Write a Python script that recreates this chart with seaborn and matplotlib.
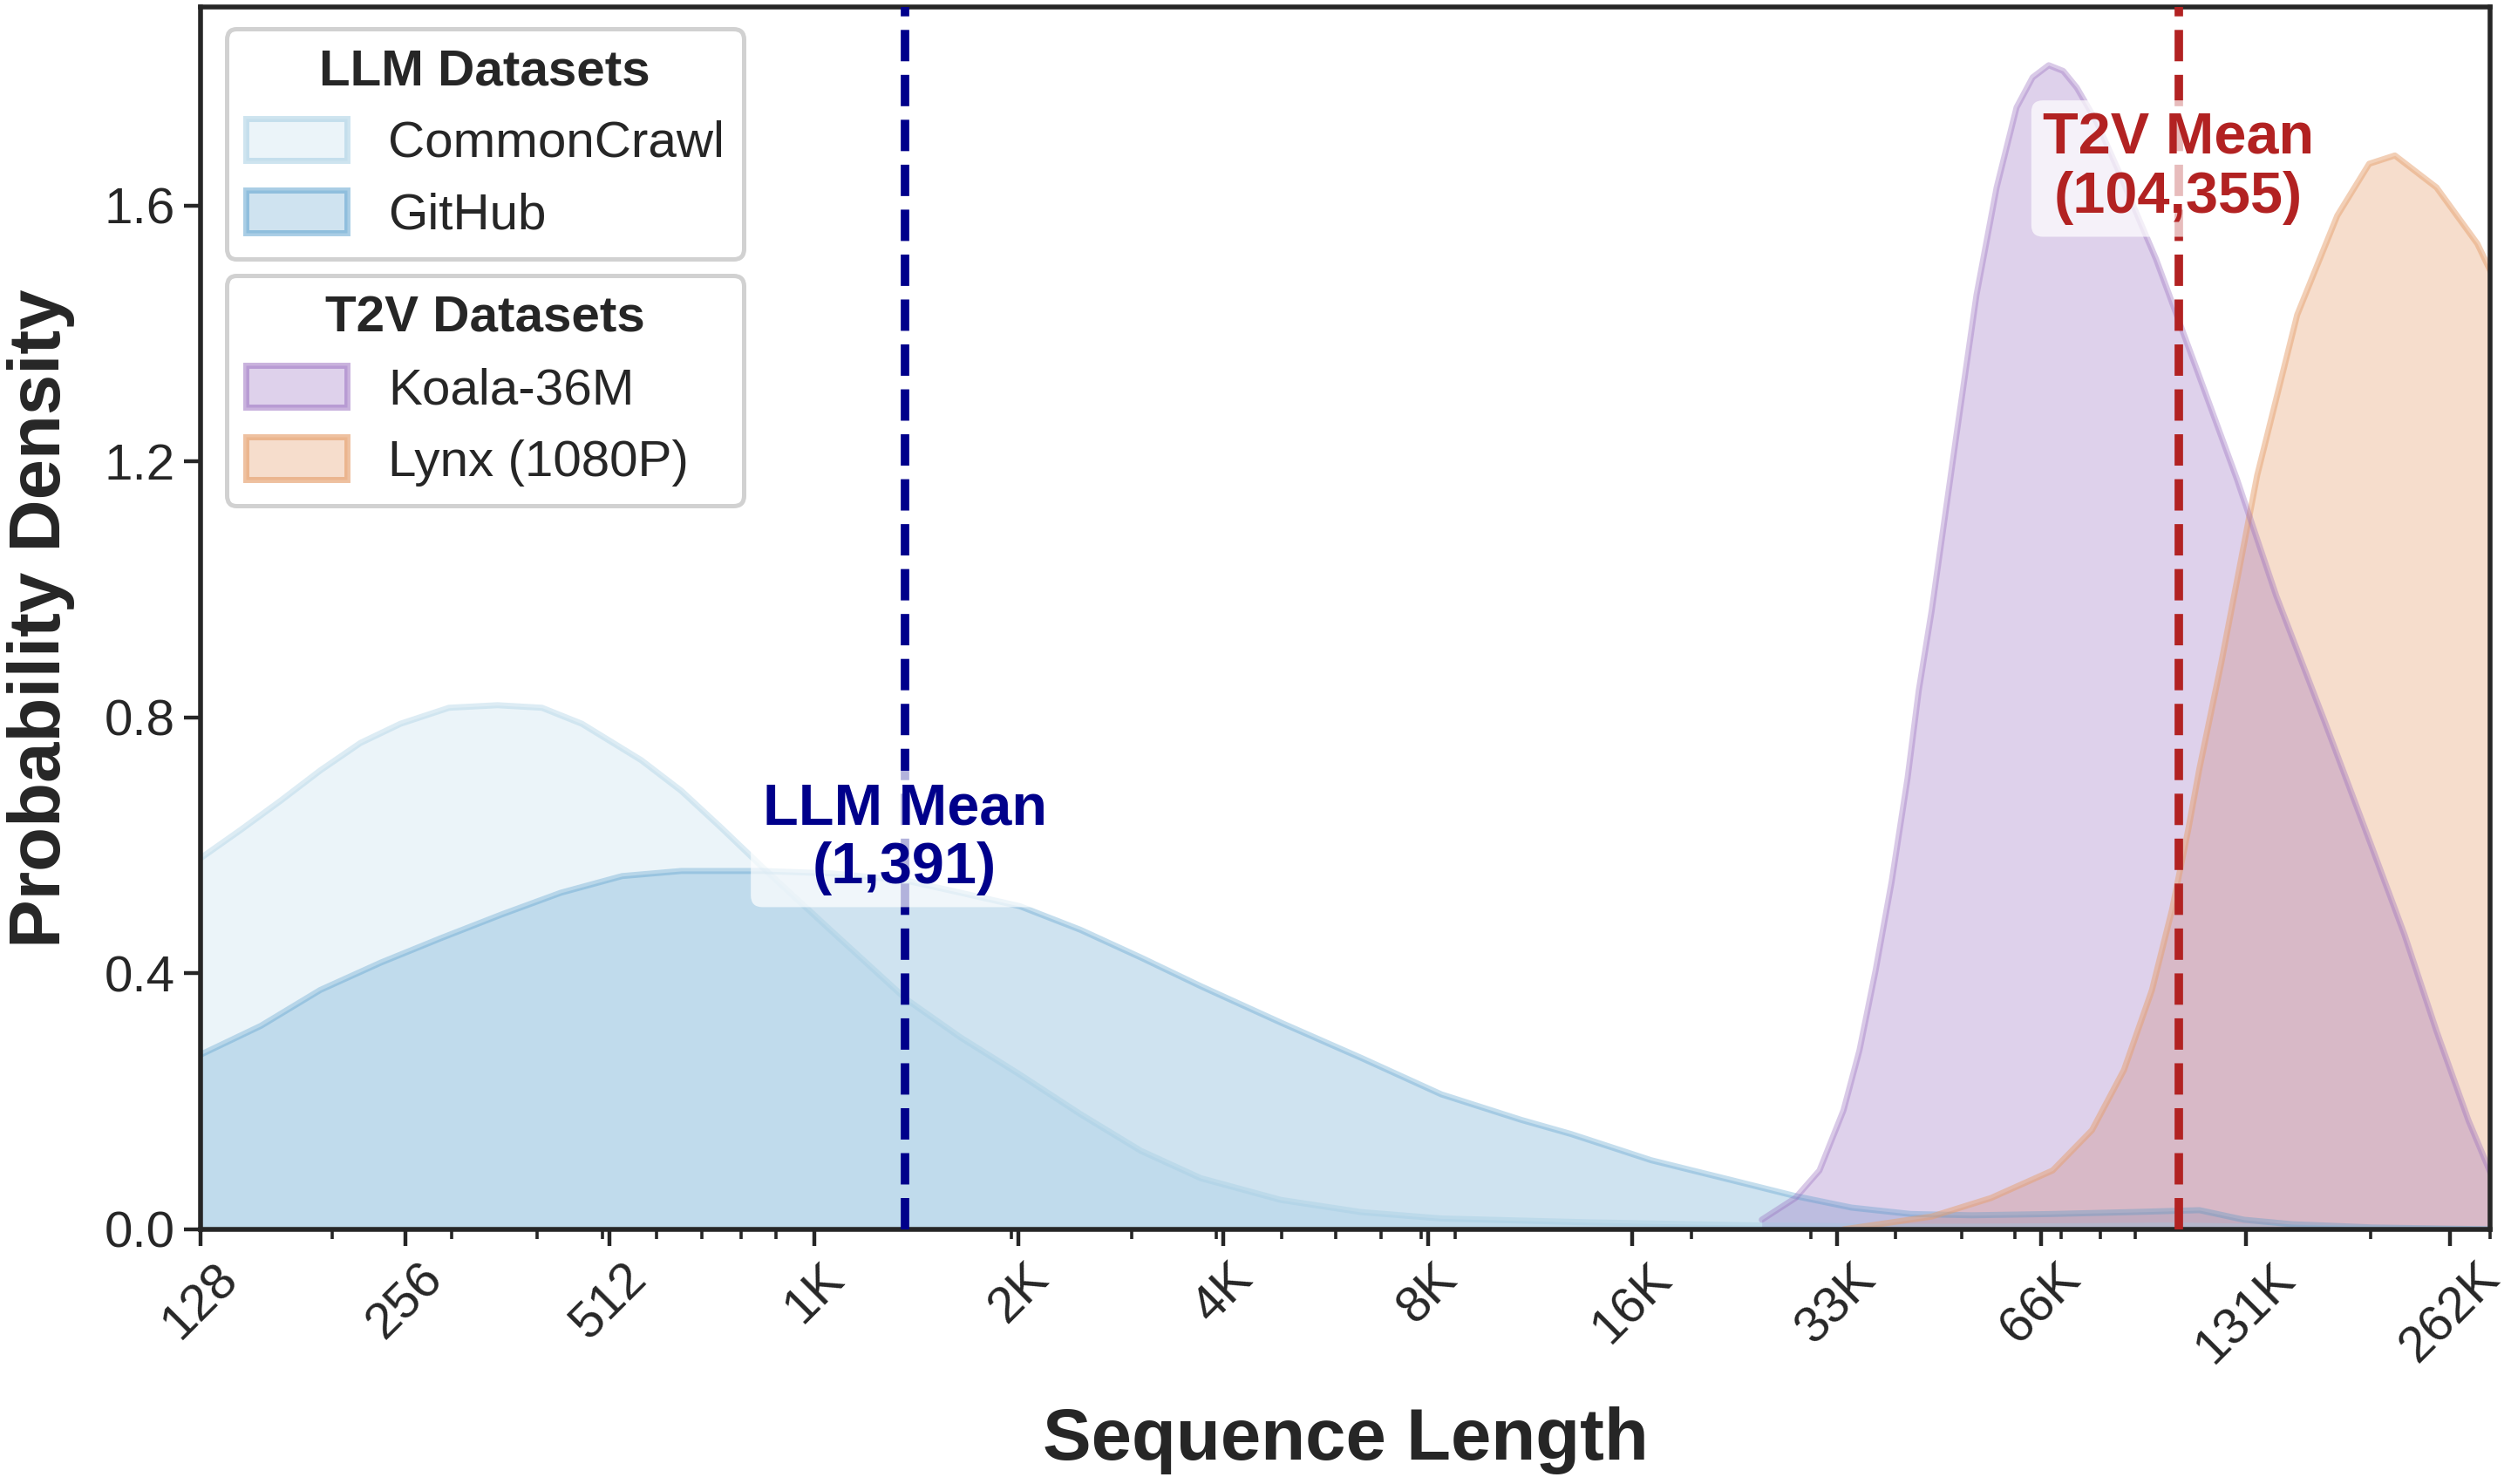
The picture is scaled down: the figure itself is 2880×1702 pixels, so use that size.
import numpy as np
import pandas as pd
import matplotlib
matplotlib.use("Agg")
import matplotlib.pyplot as plt
import seaborn as sns
from matplotlib.patches import Patch
from matplotlib.colors import to_rgba
from matplotlib.ticker import NullFormatter

# density curves (x = sequence length, y = density)
cc_len = [128, 147, 168, 192, 220, 252, 297, 350, 407, 466, 570, 653, 748, 857, 1076,
          1397, 1681, 2055, 2525, 3095, 3795, 4980, 6535, 8576, 14130, 25550, 43990,
          75710, 105000, 171000, 302600]
cc_den = [0.58, 0.625, 0.67, 0.717, 0.76, 0.79, 0.815, 0.819, 0.815, 0.79, 0.733, 0.685, 0.627, 0.567, 0.47,
          0.36, 0.30, 0.242, 0.18, 0.123, 0.08, 0.046, 0.027, 0.017, 0.011, 0.006, 0.004,
          0.005, 0.006, 0.002, 0.0]

gh_len = [128, 157, 192, 236, 289, 355, 434, 534, 653, 857, 1094, 1397, 1681, 2055, 2525,
          3095, 3795, 4980, 6535, 8576, 11250, 13310, 17470, 22920, 28480, 34440, 42110,
          51780, 68100, 89150, 112000, 130300, 153400, 201300, 302600]
gh_den = [0.273, 0.318, 0.374, 0.417, 0.455, 0.492, 0.526, 0.552, 0.56, 0.56, 0.556, 0.545, 0.526, 0.505, 0.468,
          0.425, 0.38, 0.323, 0.268, 0.211, 0.171, 0.149, 0.108, 0.077, 0.052, 0.034, 0.024,
          0.022, 0.024, 0.027, 0.03, 0.015, 0.008, 0.003, 0.0]

koala_len = [25410, 28480, 30900, 33520, 35390, 37380, 39460, 41650, 43260, 45200, 49150,
             52610, 56330, 60260, 63640, 67200, 70580, 73900, 79080, 84630, 96680, 110700,
             127200, 145300, 171000, 201300, 224500, 250100, 278800, 302600, 328000]
koala_den = [0.015, 0.049, 0.092, 0.186, 0.28, 0.405, 0.543, 0.705, 0.842, 0.967, 1.241,
             1.46, 1.628, 1.753, 1.80, 1.819, 1.81, 1.784, 1.73, 1.66, 1.516, 1.347,
             1.172, 0.99, 0.795, 0.595, 0.46, 0.31, 0.17, 0.08, 0.03]

lynx_len = [33520, 45200, 55270, 68100, 77820, 86720, 95360, 102100, 107800, 112000, 120600,
            136200, 156000, 178700, 199100, 217200, 250100, 287300, 302600]
lynx_den = [0.0, 0.02, 0.049, 0.092, 0.155, 0.249, 0.374, 0.50, 0.624, 0.72, 0.885,
            1.178, 1.429, 1.584, 1.665, 1.678, 1.628, 1.54, 1.49]

llm_mean = 1391
t2v_mean = 104355

tick_vals = [2 ** k for k in range(7, 19)]
tick_labels = ["128", "256", "512", "1K", "2K", "4K", "8K", "16K", "33K", "66K", "131K", "262K"]
y_ticks = [0.0, 0.4, 0.8, 1.2, 1.6]

sns.set_theme(style="ticks")
plt.rcParams["font.family"] = ["Liberation Sans", "DejaVu Sans"]

fig, ax = plt.subplots(figsize=(14.4, 8.51), dpi=200)
fig.subplots_adjust(left=0.0799, right=0.9917, bottom=0.1716, top=0.9953)
ax.set_xscale("log")

# name, x, y, color, fill alpha, edge alpha
series = [
    ("CommonCrawl", cc_len, cc_den, "#9ecae1", 0.2, 0.35),
    ("GitHub", gh_len, gh_den, "#4292c6", 0.25, 0.3),
    ("Lynx (1080P)", lynx_len, lynx_den, "#e6a06e", 0.35, 0.5),
    ("Koala-36M", koala_len, koala_den, "#9467bd", 0.3, 0.35),
]
for name, xs, ys, col, fa, la in series:
    ax.fill_between(xs, ys, 0, color=col, alpha=fa, lw=0)
    sns.lineplot(x=xs, y=ys, ax=ax, color=col, alpha=la, lw=2.5)

ax.axvline(llm_mean, color="darkblue", ls="--", lw=3.5, zorder=4)
ax.axvline(t2v_mean, color="firebrick", ls="--", lw=3.5, zorder=4)

box = dict(boxstyle="round,pad=0.2", fc="white", ec="none", alpha=0.7)
ax.text(llm_mean, 0.61, f"LLM Mean\n({llm_mean:,})", ha="center", va="center",
        fontsize=24, fontweight="bold", color="darkblue", bbox=box, zorder=5, linespacing=1.12)
ax.text(t2v_mean, 1.6575, f"T2V Mean\n({t2v_mean:,})", ha="center", va="center",
        fontsize=24, fontweight="bold", color="firebrick", bbox=box, zorder=5, linespacing=1.12)

ax.set_xlim(128, 3.0e5)
ax.set_ylim(0, 1.91)
ax.set_xticks(tick_vals)
ax.set_xticklabels(tick_labels, rotation=45, fontsize=21)
ax.xaxis.set_minor_formatter(NullFormatter())
ax.set_yticks(y_ticks)
ax.set_yticklabels([f"{v:.1f}" for v in y_ticks], fontsize=21)
ax.tick_params(which="major", length=7, width=1.6, color="#262626")
ax.tick_params(which="minor", length=4, width=1.3, color="#262626")
for sp in ax.spines.values():
    sp.set_linewidth(2)
    sp.set_color("#262626")

ax.set_xlabel("Sequence Length", fontsize=30, fontweight="bold", labelpad=14)
ax.set_ylabel("Probability Density", fontsize=30, fontweight="bold", labelpad=12)


def make_handles(items):
    return [Patch(facecolor=to_rgba(c, fa), edgecolor=to_rgba(c, la + 0.15), lw=2.5, label=n)
            for n, _, _, c, fa, la in items]


leg_kw = dict(loc="upper left", mode="expand", borderaxespad=0, fontsize=21,
              title_fontproperties={"weight": "bold", "size": 21}, frameon=True, fancybox=True,
              framealpha=0.9, edgecolor="#cccccc", handlelength=2.0, handleheight=0.9,
              handletextpad=0.8, labelspacing=0.45, borderpad=0.38)
leg1 = ax.legend(handles=make_handles([series[0], series[1]]), title="LLM Datasets",
                 bbox_to_anchor=(0.0112, 0, 0.2259, 0.982), **leg_kw)
leg1.get_frame().set_linewidth(1.8)
ax.add_artist(leg1)
leg2 = ax.legend(handles=make_handles([series[3], series[2]]), title="T2V Datasets",
                 bbox_to_anchor=(0.0112, 0, 0.2259, 0.780), **leg_kw)
leg2.get_frame().set_linewidth(1.8)

fig.savefig("out.png", dpi=200)
